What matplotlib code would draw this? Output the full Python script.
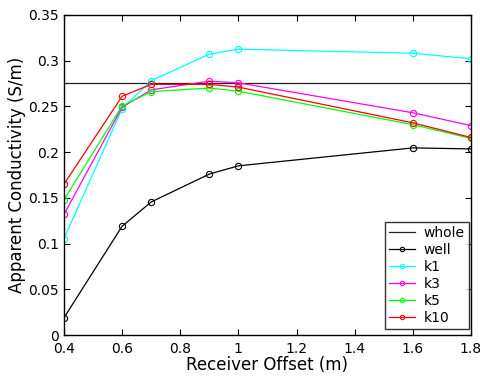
import matplotlib
matplotlib.use('Agg')
import matplotlib.pyplot as plt

offsets = [0.4, 0.6, 0.7, 0.9, 1.0, 1.6, 1.8]
whole = [0.275, 0.275]
whole_x = [0.4, 1.8]
well = [0.019, 0.119, 0.1455, 0.176, 0.185, 0.2046, 0.2035]
k1 = [0.1054, 0.2476, 0.278, 0.307, 0.3125, 0.308, 0.302]
k3 = [0.132, 0.249, 0.268, 0.2775, 0.2757, 0.243, 0.229]
k5 = [0.148, 0.2505, 0.266, 0.270, 0.2666, 0.230, 0.215]
k10 = [0.165, 0.261, 0.274, 0.274, 0.271, 0.232, 0.216]

xticks = [0.4, 0.6, 0.8, 1.0, 1.2, 1.4, 1.6, 1.8]
xlabels = ['0.4', '0.6', '0.8', '1', '1.2', '1.4', '1.6', '1.8']
yticks = [0, 0.05, 0.1, 0.15, 0.2, 0.25, 0.3, 0.35]
ylabels = ['0', '0.05', '0.1', '0.15', '0.2', '0.25', '0.3', '0.35']

fig = plt.figure(figsize=(4.81, 3.80), dpi=100)
ax = fig.add_axes([0.133, 0.118, 0.846, 0.843])

ax.plot(whole_x, whole, color='#202020', lw=0.9, label='whole')
ms = 4.5
ax.plot(offsets, well, 'o-', color='k', lw=0.9, ms=ms, mfc='none', mew=0.8, label='well')
ax.plot(offsets, k1, 'o-', color='#00ffff', lw=0.9, ms=ms, mfc='none', mew=0.8, label='k1')
ax.plot(offsets, k3, 'o-', color='#ff00ff', lw=0.9, ms=ms, mfc='none', mew=0.8, label='k3')
ax.plot(offsets, k5, 'o-', color='#00ff00', lw=0.9, ms=ms, mfc='none', mew=0.8, label='k5')
ax.plot(offsets, k10, 'o-', color='#ff0000', lw=0.9, ms=ms, mfc='none', mew=0.8, label='k10')

ax.set_xlim(0.4, 1.8)
ax.set_ylim(0, 0.35)
ax.set_xticks(xticks)
ax.set_xticklabels(xlabels)
ax.set_yticks(yticks)
ax.set_yticklabels(ylabels)
ax.tick_params(direction='in', top=True, right=True, labelsize=10, length=4)
ax.tick_params(axis='x', pad=5)
for s in ax.spines.values():
    s.set_linewidth(1.0)

ax.set_xlabel('Receiver Offset (m)', fontsize=12, labelpad=0)
ax.set_ylabel('Apparent Conductivity (S/m)', fontsize=12, labelpad=2)

leg = ax.legend(loc='lower right', fontsize=10, frameon=True, fancybox=False,
                edgecolor='k', handlelength=1.9, handletextpad=0.6, borderpad=0.3,
                labelspacing=0.22, markerscale=0.7, borderaxespad=0,
                bbox_to_anchor=(0.995, 0.018))
leg.get_frame().set_linewidth(1.0)

fig.savefig('out.png', dpi=100)
